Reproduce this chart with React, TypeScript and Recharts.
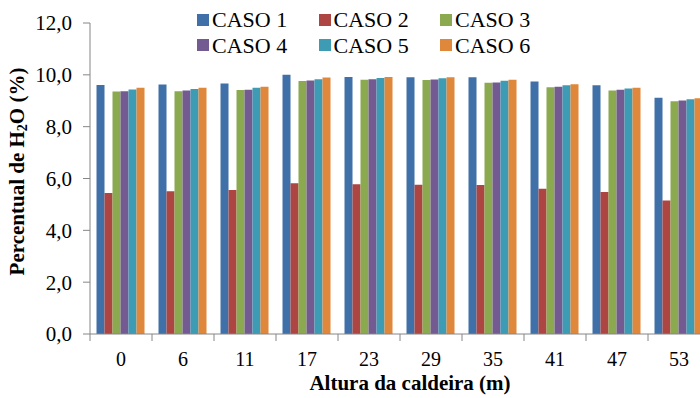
import { BarChart, Bar, XAxis, YAxis } from 'recharts'

const FONT = "'Liberation Serif', 'Times New Roman', serif"
const AXIS_GREY = '#868686'

const alturas = ['0', '6', '11', '17', '23', '29', '35', '41', '47', '53']
const caso1 = [9.61, 9.63, 9.67, 10.0, 9.92, 9.91, 9.91, 9.74, 9.6, 9.12]
const caso2 = [5.44, 5.51, 5.56, 5.82, 5.78, 5.76, 5.75, 5.6, 5.48, 5.15]
const caso3 = [9.36, 9.37, 9.41, 9.76, 9.81, 9.8, 9.69, 9.52, 9.4, 8.98]
const caso4 = [9.37, 9.4, 9.42, 9.78, 9.83, 9.82, 9.7, 9.54, 9.42, 9.01]
const caso5 = [9.43, 9.45, 9.5, 9.83, 9.88, 9.87, 9.77, 9.6, 9.47, 9.06]
const caso6 = [9.5, 9.5, 9.54, 9.9, 9.92, 9.91, 9.81, 9.64, 9.5, 9.1]
const yTicks = [0, 2, 4, 6, 8, 10, 12]

const SERIES = [
  { key: 'caso1', name: 'CASO 1', values: caso1, color: '#3f70a7' },
  { key: 'caso2', name: 'CASO 2', values: caso2, color: '#ad4542' },
  { key: 'caso3', name: 'CASO 3', values: caso3, color: '#8ba94f' },
  { key: 'caso4', name: 'CASO 4', values: caso4, color: '#735a90' },
  { key: 'caso5', name: 'CASO 5', values: caso5, color: '#3d9bb4' },
  { key: 'caso6', name: 'CASO 6', values: caso6, color: '#df873b' },
]

const data = alturas.map((a, i) => {
  const row: Record<string, string | number> = { altura: a }
  SERIES.forEach((s) => (row[s.key] = s.values[i]))
  return row
})

const fmt = (v: number) => v.toFixed(1).replace('.', ',')

function XTick(props: any) {
  const { x, y, payload, index } = props
  const half = payload?.offset ?? 31
  return (
    <g>
      <line x1={x - half} y1={y} x2={x - half} y2={y + 7} stroke={AXIS_GREY} />
      {index === alturas.length - 1 && (
        <line x1={x + half} y1={y} x2={x + half} y2={y + 7} stroke={AXIS_GREY} />
      )}
      <text x={x} y={y + 32} textAnchor="middle" fontSize={20} fontFamily={FONT} fill="#000">
        {payload.value}
      </text>
    </g>
  )
}

function YTitle(props: any) {
  const vb = props.viewBox || { x: 0, y: 23, height: 311 }
  const cx = 17
  const cy = vb.y + vb.height / 2 - 7
  return (
    <text
      x={cx}
      y={cy}
      transform={`rotate(-90, ${cx}, ${cy})`}
      textAnchor="middle"
      dominantBaseline="central"
      fontSize={21}
      fontWeight="bold"
      fontFamily={FONT}
      fill="#000"
    >
      <tspan>Percentual de H</tspan>
      <tspan fontSize={14} dy={5}>2</tspan>
      <tspan dy={-5}>O (%)</tspan>
    </text>
  )
}

function Legenda() {
  return (
    <div style={{ position: 'absolute', left: 197, top: 7, width: 370, display: 'flex', flexWrap: 'wrap' }}>
      {SERIES.map((s) => (
        <div
          key={s.key}
          style={{ width: 121.5, height: 25.5, display: 'flex', alignItems: 'center', fontFamily: FONT, fontSize: 22, lineHeight: '25.5px', color: '#000' }}
        >
          <span style={{ display: 'inline-block', width: 12, height: 12, background: s.color, marginRight: 3 }} />
          {s.name}
        </div>
      ))}
    </div>
  )
}

export default function App() {
  return (
    <div style={{ position: 'absolute', left: 0, top: 0, width: 700, height: 398, overflow: 'hidden', background: '#fff' }}>
      <BarChart
        width={720}
        height={398}
        data={data}
        margin={{ top: 23, right: 10, left: 0, bottom: 0 }}
        barCategoryGap="10.5%"
        barGap={0}
      >
        <XAxis
          dataKey="altura"
          height={64}
          stroke={AXIS_GREY}
          tickLine={false}
          tickSize={0}
          tickMargin={0}
          tick={<XTick />}
          interval={0}
          label={{
            value: 'Altura da caldeira (m)',
            position: 'insideBottom',
            offset: 8,
            dx: 10,
            fill: '#000',
            fontSize: 21,
            fontWeight: 'bold',
            fontFamily: FONT,
          }}
        />
        <YAxis
          width={90}
          domain={[0, 12]}
          ticks={yTicks}
          interval={0}
          tickFormatter={fmt}
          stroke={AXIS_GREY}
          tickSize={7}
          tickMargin={11}
          tick={{ fill: '#000', fontSize: 21, fontFamily: FONT }}
          label={{ content: (p: any) => <YTitle {...p} /> }}
        />
        {SERIES.map((s) => (
          <Bar key={s.key} dataKey={s.key} name={s.name} fill={s.color} isAnimationActive={false} />
        ))}
      </BarChart>
      <Legenda />
    </div>
  )
}
